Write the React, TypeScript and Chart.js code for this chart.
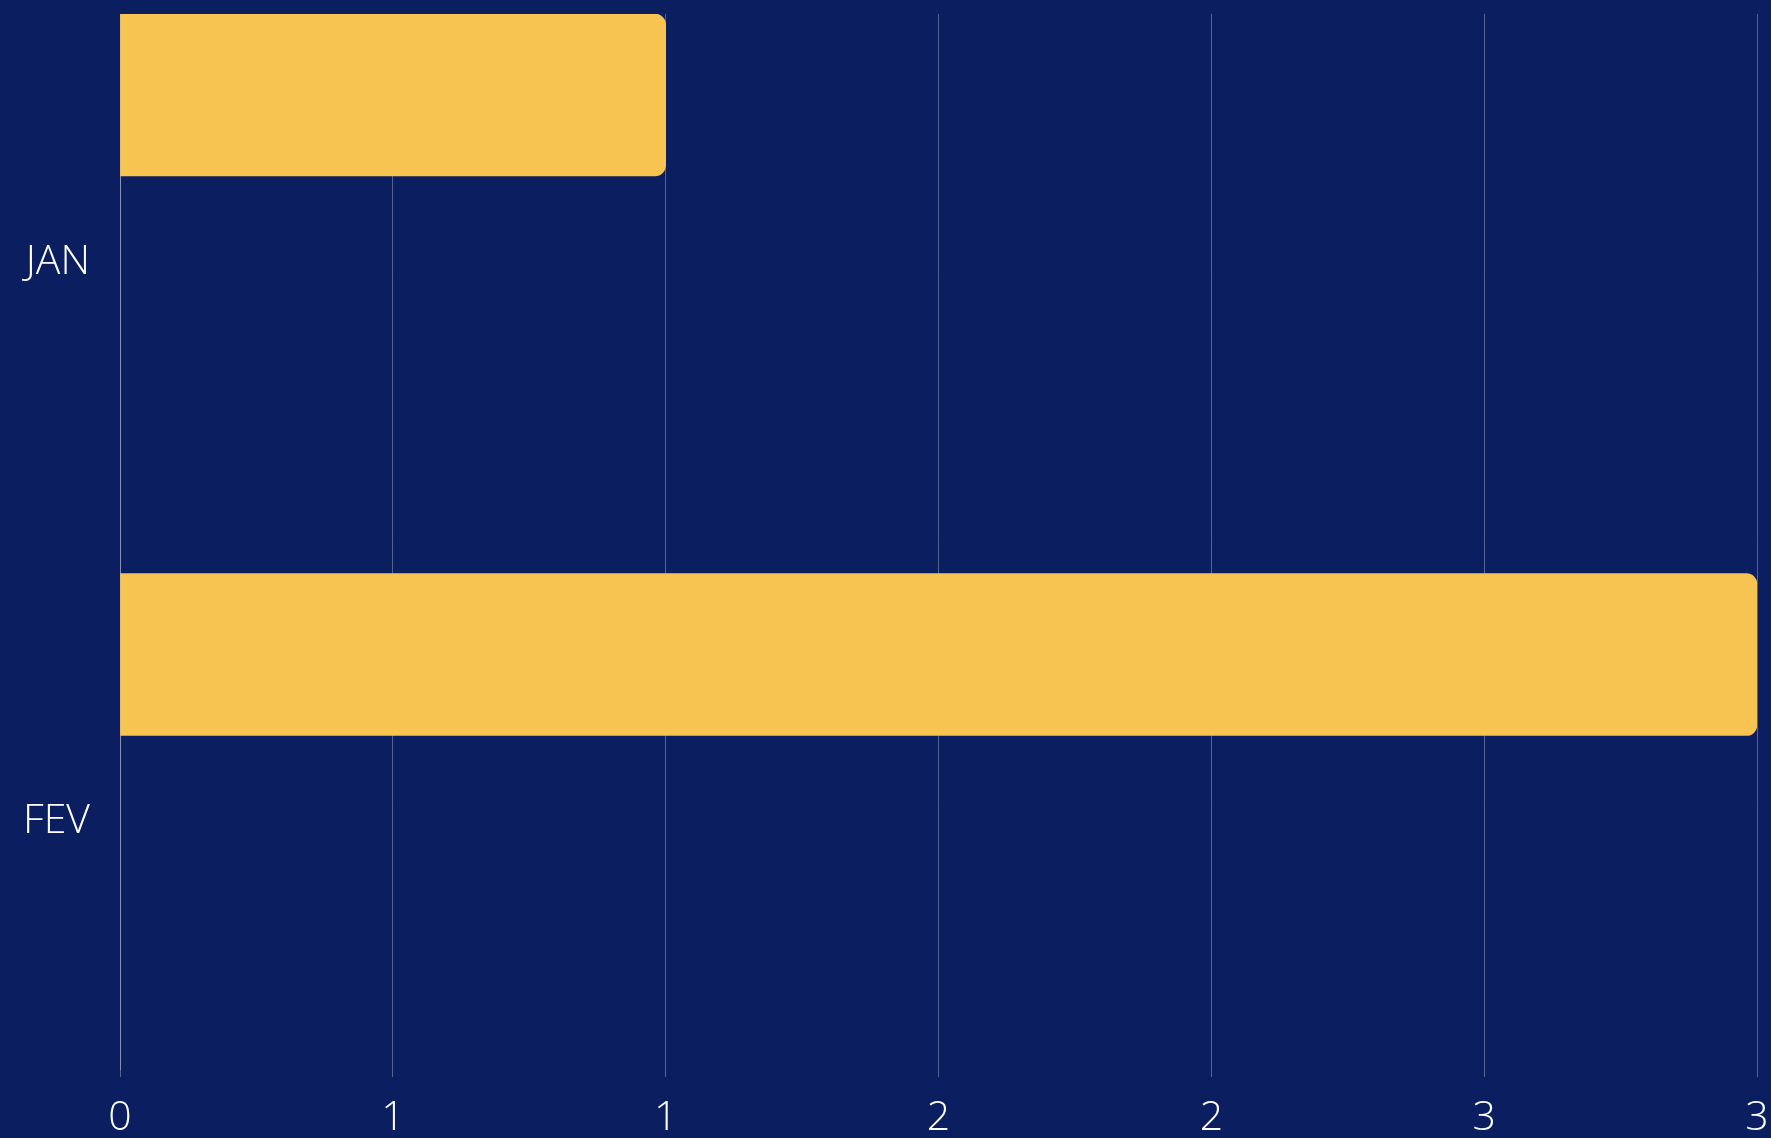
import React, { useEffect, useRef } from "react";
import { Chart, registerables } from "chart.js";

Chart.register(...registerables);

const months: string[] = ["JAN", "FEV"];
const values: number[] = [1, 3];
const xTickStep = 0.5;
const xMax = 3;

const BG = "rgb(11,31,96)";
const BAR = "rgb(247,196,81)";
const GRID = "rgba(255,255,255,0.3)";
const FONT = { family: "'Open Sans', sans-serif", size: 41, weight: 300 as any };

export default function App() {
  const ref = useRef<HTMLCanvasElement | null>(null);

  useEffect(() => {
    if (!ref.current) return;
    const bgPlugin = {
      id: "bg",
      beforeDraw(chart: any) {
        const { ctx, width, height } = chart;
        ctx.save();
        ctx.fillStyle = BG;
        ctx.fillRect(0, 0, width, height);
        ctx.restore();
      },
    };
    const chart = new Chart(ref.current, {
      type: "bar",
      data: {
        datasets: [
          {
            label: "Total",
            data: months.map((m, i) => ({ x: values[i], y: i })) as any,
            backgroundColor: BAR,
            borderRadius: 11,
            borderSkipped: "start",
            barThickness: 162,
          },
        ],
      },
      options: {
        indexAxis: "y",
        animation: false,
        responsive: true,
        maintainAspectRatio: false,
        layout: { padding: { top: 14, left: 0, right: 14, bottom: 0 } },
        plugins: {
          legend: { display: false },
          tooltip: { enabled: false },
        },
        scales: {
          x: {
            type: "linear",
            min: 0,
            max: xMax,
            grid: { color: GRID, lineWidth: 1, drawTicks: true, tickLength: 8, tickColor: GRID },
            border: { display: false },
            afterFit: (scale: any) => {
              scale.height = 69;
              scale.paddingLeft = 0;
              scale.paddingRight = 0;
            },
            ticks: {
              stepSize: xTickStep,
              color: "#ffffff",
              font: FONT,
              padding: 17,
              maxRotation: 0,
              autoSkip: false,
              callback: (v: any) => String(Math.round(Number(v))),
            },
          },
          y: {
            type: "linear",
            reverse: true,
            offset: false,
            min: -0.1448,
            max: 1.7408,
            grid: { display: false, drawTicks: false },
            border: { display: true, color: GRID, width: 1 },
            afterBuildTicks: (scale: any) => {
              scale.ticks = months.map((_, i) => ({ value: i }));
            },
            afterFit: (scale: any) => {
              scale.width = 120;
              scale.paddingTop = 0;
              scale.paddingBottom = 0;
            },
            ticks: {
              color: "#ffffff",
              font: FONT,
              padding: 30,
              labelOffset: 167,
              autoSkip: false,
              callback: (v: any) => months[Math.round(Number(v))] ?? "",
            },
          },
        },
      },
      plugins: [bgPlugin],
    });
    return () => chart.destroy();
  }, []);

  return (
    <div style={{ position: "fixed", left: 0, top: 0, width: "100vw", height: "100vh", background: BG }}>
      <canvas ref={ref} />
    </div>
  );
}
